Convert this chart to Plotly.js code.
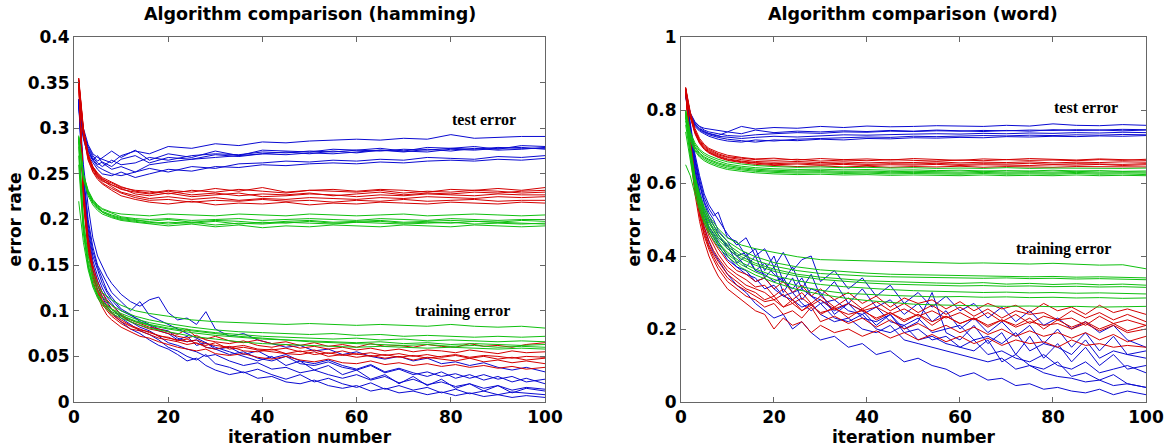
<!DOCTYPE html>
<html>
<head>
<meta charset="utf-8">
<script src="https://cdn.plot.ly/plotly-3.0.1.min.js"></script>
<style>html,body{margin:0;padding:0;background:#fff;}#chart{width:1168px;height:448px;}</style>
</head>
<body>
<div id="chart"></div>
<script>
// iteration grids (sparse for smooth curves, denser for noisy training curves)
const XS = [1,2,3,4,5,6,8,10,13,16,20,25,30,35,40,45,50,55,60,65,70,75,80,85,90,95,100];
const XD = [1,2,3,4,5,6,7,8,10,12,14,16,18,20,22,24,26,28,30,33,36,39,42,45,48,51,54,57,60,63,66,69,72,75,78,81,84,87,90,93,96,100];

const panelTitles = ["Algorithm comparison (hamming)", "Algorithm comparison (word)"];
const xTicks = [0,20,40,60,80,100];
const labels = ["test error", "training error"];

// ---------- Hamming: test error ----------
const hamTestBlue = [
 [0.332,0.300,0.282,0.272,0.268,0.266,0.262,0.270,0.275,0.272,0.280,0.278,0.283,0.281,0.285,0.284,0.286,0.287,0.288,0.287,0.289,0.288,0.293,0.289,0.290,0.291,0.291],
 [0.328,0.295,0.278,0.268,0.262,0.258,0.265,0.260,0.262,0.268,0.265,0.270,0.272,0.271,0.274,0.273,0.275,0.274,0.276,0.275,0.277,0.276,0.278,0.277,0.279,0.278,0.278],
 [0.330,0.292,0.275,0.265,0.270,0.262,0.255,0.258,0.252,0.260,0.263,0.266,0.268,0.270,0.272,0.271,0.273,0.272,0.274,0.276,0.275,0.274,0.277,0.276,0.278,0.279,0.277],
 [0.325,0.288,0.270,0.262,0.255,0.250,0.248,0.252,0.246,0.250,0.255,0.253,0.258,0.257,0.260,0.259,0.261,0.262,0.261,0.263,0.262,0.264,0.265,0.264,0.266,0.265,0.267],
 [0.327,0.290,0.272,0.265,0.258,0.255,0.250,0.248,0.252,0.256,0.252,0.258,0.256,0.261,0.262,0.264,0.263,0.265,0.264,0.266,0.265,0.268,0.267,0.266,0.269,0.268,0.270],
 [0.331,0.296,0.280,0.270,0.264,0.268,0.275,0.268,0.276,0.265,0.272,0.268,0.275,0.270,0.276,0.275,0.274,0.277,0.276,0.278,0.275,0.279,0.278,0.280,0.277,0.281,0.280],
 [0.329,0.293,0.276,0.266,0.260,0.263,0.258,0.266,0.270,0.262,0.268,0.266,0.271,0.269,0.272,0.274,0.272,0.275,0.273,0.276,0.274,0.277,0.275,0.278,0.276,0.277,0.279]
];
const hamTestRed = [
 [0.355,0.300,0.272,0.258,0.250,0.245,0.238,0.233,0.230,0.228,0.231,0.227,0.229,0.226,0.228,0.227,0.229,0.226,0.228,0.230,0.227,0.229,0.228,0.230,0.229,0.231,0.232],
 [0.350,0.295,0.268,0.255,0.247,0.243,0.236,0.230,0.226,0.223,0.225,0.222,0.224,0.221,0.223,0.222,0.224,0.223,0.222,0.224,0.223,0.225,0.224,0.223,0.225,0.224,0.225],
 [0.352,0.298,0.270,0.257,0.249,0.244,0.240,0.235,0.232,0.231,0.228,0.232,0.230,0.233,0.231,0.229,0.232,0.231,0.230,0.232,0.229,0.231,0.230,0.232,0.231,0.229,0.230],
 [0.348,0.292,0.265,0.252,0.244,0.239,0.232,0.226,0.222,0.219,0.217,0.220,0.216,0.218,0.217,0.219,0.216,0.218,0.217,0.219,0.218,0.217,0.219,0.218,0.217,0.219,0.218],
 [0.353,0.297,0.269,0.256,0.248,0.242,0.238,0.234,0.228,0.226,0.229,0.225,0.227,0.229,0.225,0.226,0.228,0.227,0.225,0.227,0.226,0.228,0.227,0.226,0.228,0.227,0.227],
 [0.351,0.299,0.271,0.258,0.251,0.246,0.241,0.236,0.231,0.229,0.232,0.230,0.234,0.231,0.235,0.230,0.232,0.233,0.231,0.233,0.232,0.230,0.233,0.232,0.234,0.232,0.235],
 [0.349,0.294,0.266,0.253,0.246,0.240,0.234,0.229,0.224,0.221,0.222,0.219,0.221,0.220,0.222,0.220,0.221,0.219,0.221,0.220,0.222,0.220,0.221,0.222,0.220,0.221,0.221]
];
const hamTestGreen = [
 [0.292,0.250,0.232,0.222,0.216,0.212,0.208,0.206,0.205,0.204,0.206,0.205,0.204,0.206,0.205,0.204,0.206,0.205,0.204,0.205,0.206,0.204,0.205,0.206,0.205,0.204,0.205],
 [0.288,0.246,0.228,0.218,0.212,0.208,0.204,0.201,0.199,0.198,0.200,0.197,0.199,0.198,0.196,0.198,0.199,0.197,0.198,0.199,0.197,0.198,0.199,0.198,0.197,0.199,0.198],
 [0.290,0.248,0.230,0.220,0.214,0.209,0.205,0.202,0.200,0.197,0.195,0.197,0.194,0.196,0.195,0.197,0.196,0.195,0.197,0.196,0.195,0.196,0.197,0.195,0.196,0.195,0.196],
 [0.286,0.244,0.226,0.216,0.210,0.206,0.202,0.199,0.197,0.195,0.193,0.195,0.192,0.194,0.191,0.193,0.192,0.194,0.193,0.192,0.194,0.193,0.192,0.194,0.193,0.192,0.193],
 [0.291,0.249,0.231,0.221,0.215,0.211,0.207,0.203,0.201,0.200,0.201,0.199,0.200,0.201,0.199,0.200,0.201,0.200,0.199,0.201,0.200,0.199,0.201,0.200,0.199,0.200,0.200],
 [0.289,0.247,0.229,0.219,0.213,0.208,0.203,0.200,0.198,0.196,0.197,0.196,0.198,0.195,0.197,0.196,0.198,0.196,0.197,0.198,0.196,0.197,0.196,0.198,0.197,0.196,0.195]
];

// ---------- Hamming: training error ----------
const hamTrainBlue = [
 [0.330,0.240,0.190,0.160,0.145,0.130,0.120,0.112,0.100,0.095,0.090,0.085,0.080,0.078,0.070,0.066,0.068,0.060,0.058,0.052,0.055,0.048,0.045,0.050,0.042,0.040,0.044,0.038,0.035,0.040,0.032,0.036,0.030,0.033,0.028,0.031,0.026,0.030,0.025,0.028,0.022,0.025],
 [0.332,0.260,0.215,0.180,0.160,0.148,0.138,0.130,0.118,0.110,0.105,0.112,0.115,0.098,0.090,0.092,0.085,0.099,0.080,0.072,0.075,0.068,0.064,0.060,0.062,0.056,0.058,0.052,0.055,0.050,0.047,0.050,0.045,0.048,0.042,0.044,0.040,0.043,0.038,0.035,0.038,0.033],
 [0.328,0.225,0.175,0.145,0.128,0.115,0.105,0.098,0.088,0.080,0.075,0.068,0.062,0.058,0.052,0.045,0.048,0.040,0.035,0.030,0.033,0.026,0.028,0.022,0.020,0.024,0.018,0.015,0.018,0.012,0.015,0.010,0.012,0.008,0.011,0.007,0.010,0.006,0.008,0.005,0.007,0.005],
 [0.330,0.235,0.185,0.155,0.138,0.125,0.115,0.108,0.095,0.088,0.082,0.078,0.072,0.065,0.062,0.058,0.055,0.050,0.052,0.045,0.040,0.043,0.036,0.038,0.032,0.035,0.030,0.026,0.030,0.024,0.028,0.021,0.025,0.019,0.022,0.017,0.020,0.015,0.018,0.013,0.016,0.014],
 [0.331,0.245,0.195,0.165,0.148,0.135,0.122,0.115,0.102,0.096,0.088,0.084,0.078,0.075,0.068,0.072,0.062,0.065,0.058,0.060,0.052,0.056,0.048,0.052,0.045,0.042,0.046,0.040,0.036,0.041,0.033,0.037,0.032,0.028,0.033,0.026,0.030,0.024,0.028,0.022,0.026,0.020],
 [0.329,0.230,0.180,0.150,0.133,0.120,0.110,0.102,0.092,0.085,0.078,0.074,0.068,0.060,0.056,0.050,0.046,0.052,0.042,0.038,0.032,0.036,0.030,0.025,0.030,0.022,0.026,0.020,0.016,0.021,0.014,0.018,0.013,0.016,0.010,0.014,0.009,0.012,0.008,0.011,0.010,0.008],
 [0.330,0.250,0.200,0.170,0.150,0.140,0.130,0.120,0.110,0.100,0.110,0.095,0.090,0.085,0.080,0.075,0.070,0.065,0.060,0.055,0.050,0.045,0.050,0.040,0.045,0.035,0.040,0.030,0.035,0.025,0.030,0.020,0.028,0.018,0.025,0.015,0.020,0.012,0.018,0.010,0.015,0.012]
];
const hamTrainRed = [
 [0.355,0.230,0.175,0.145,0.128,0.116,0.108,0.102,0.094,0.088,0.084,0.080,0.078,0.075,0.072,0.070,0.073,0.068,0.066,0.064,0.067,0.062,0.060,0.063,0.059,0.061,0.058,0.060,0.057,0.059,0.056,0.058,0.055,0.057,0.056,0.054,0.057,0.055,0.053,0.056,0.054,0.055],
 [0.352,0.222,0.168,0.138,0.120,0.108,0.100,0.094,0.086,0.080,0.078,0.074,0.070,0.068,0.066,0.063,0.065,0.060,0.058,0.061,0.056,0.055,0.058,0.053,0.052,0.055,0.050,0.052,0.049,0.051,0.048,0.050,0.046,0.049,0.047,0.045,0.048,0.044,0.046,0.043,0.045,0.042],
 [0.354,0.235,0.180,0.150,0.132,0.120,0.112,0.106,0.096,0.090,0.086,0.082,0.080,0.077,0.074,0.080,0.071,0.069,0.072,0.067,0.065,0.068,0.064,0.066,0.062,0.065,0.061,0.063,0.060,0.064,0.061,0.062,0.060,0.063,0.061,0.060,0.064,0.061,0.062,0.060,0.063,0.065],
 [0.350,0.218,0.164,0.134,0.116,0.104,0.095,0.090,0.082,0.077,0.072,0.070,0.066,0.063,0.060,0.058,0.056,0.058,0.053,0.051,0.053,0.049,0.047,0.050,0.046,0.044,0.047,0.043,0.042,0.045,0.041,0.043,0.040,0.042,0.039,0.041,0.038,0.040,0.037,0.039,0.036,0.038],
 [0.353,0.228,0.172,0.142,0.124,0.112,0.104,0.098,0.090,0.084,0.080,0.076,0.073,0.070,0.068,0.066,0.068,0.064,0.062,0.060,0.062,0.058,0.057,0.059,0.055,0.057,0.053,0.056,0.052,0.054,0.051,0.053,0.050,0.052,0.049,0.051,0.048,0.050,0.047,0.049,0.046,0.048],
 [0.351,0.225,0.170,0.140,0.122,0.110,0.102,0.096,0.088,0.083,0.079,0.077,0.072,0.071,0.067,0.069,0.064,0.062,0.065,0.058,0.060,0.057,0.055,0.053,0.056,0.052,0.054,0.051,0.053,0.050,0.052,0.049,0.051,0.048,0.050,0.052,0.049,0.051,0.050,0.048,0.050,0.049]
];
const hamTrainGreen = [
 [0.290,0.200,0.160,0.140,0.128,0.120,0.112,0.106,0.100,0.097,0.094,0.090,0.088,0.087,0.086,0.085,0.086,0.085,0.084,0.085,0.084,0.083,0.085,0.083,0.082,0.083,0.081],
 [0.285,0.195,0.155,0.135,0.123,0.115,0.106,0.100,0.094,0.090,0.086,0.082,0.079,0.077,0.076,0.075,0.074,0.075,0.073,0.074,0.072,0.073,0.072,0.071,0.072,0.071,0.072],
 [0.280,0.190,0.150,0.130,0.118,0.110,0.102,0.097,0.091,0.087,0.083,0.079,0.076,0.074,0.072,0.071,0.070,0.069,0.070,0.068,0.069,0.067,0.068,0.067,0.066,0.067,0.066],
 [0.260,0.185,0.148,0.128,0.116,0.108,0.099,0.094,0.088,0.084,0.080,0.076,0.073,0.071,0.069,0.068,0.067,0.066,0.065,0.066,0.064,0.065,0.063,0.064,0.063,0.062,0.063],
 [0.220,0.175,0.145,0.126,0.114,0.106,0.097,0.092,0.086,0.081,0.077,0.072,0.069,0.066,0.064,0.063,0.062,0.061,0.060,0.061,0.060,0.059,0.060,0.059,0.058,0.059,0.058],
 [0.270,0.188,0.150,0.130,0.118,0.110,0.101,0.095,0.089,0.085,0.081,0.078,0.075,0.072,0.070,0.068,0.066,0.065,0.064,0.063,0.062,0.063,0.061,0.062,0.060,0.061,0.060]
];

// ---------- Word: test error ----------
const wordTestBlue = [
 [0.850,0.790,0.765,0.755,0.750,0.748,0.745,0.740,0.755,0.748,0.752,0.750,0.755,0.752,0.756,0.754,0.755,0.757,0.756,0.755,0.758,0.756,0.762,0.758,0.757,0.760,0.758],
 [0.848,0.785,0.760,0.748,0.740,0.735,0.728,0.725,0.722,0.725,0.728,0.726,0.730,0.732,0.731,0.733,0.734,0.735,0.734,0.736,0.735,0.737,0.736,0.738,0.737,0.739,0.738],
 [0.845,0.780,0.755,0.742,0.735,0.728,0.720,0.715,0.712,0.718,0.715,0.720,0.722,0.724,0.726,0.725,0.728,0.727,0.729,0.730,0.729,0.731,0.730,0.732,0.731,0.733,0.732],
 [0.852,0.792,0.768,0.755,0.745,0.740,0.735,0.730,0.728,0.732,0.735,0.738,0.736,0.740,0.739,0.742,0.741,0.743,0.742,0.744,0.743,0.745,0.744,0.746,0.745,0.747,0.746],
 [0.846,0.782,0.758,0.745,0.738,0.732,0.725,0.720,0.716,0.712,0.718,0.716,0.720,0.718,0.722,0.721,0.724,0.723,0.725,0.724,0.727,0.726,0.728,0.727,0.729,0.728,0.730],
 [0.849,0.787,0.762,0.750,0.742,0.736,0.730,0.740,0.735,0.745,0.738,0.742,0.740,0.743,0.741,0.744,0.742,0.745,0.743,0.741,0.744,0.742,0.746,0.744,0.745,0.743,0.745]
];
const wordTestRed = [
 [0.860,0.790,0.745,0.718,0.702,0.692,0.680,0.672,0.668,0.664,0.662,0.665,0.660,0.663,0.661,0.664,0.662,0.660,0.663,0.661,0.664,0.662,0.663,0.661,0.664,0.662,0.665],
 [0.858,0.785,0.740,0.712,0.696,0.686,0.674,0.666,0.660,0.656,0.653,0.655,0.652,0.654,0.651,0.653,0.652,0.654,0.651,0.653,0.652,0.654,0.651,0.653,0.652,0.651,0.653],
 [0.855,0.780,0.735,0.708,0.692,0.682,0.670,0.662,0.656,0.651,0.648,0.645,0.647,0.644,0.646,0.643,0.645,0.644,0.646,0.643,0.645,0.644,0.643,0.645,0.644,0.643,0.644],
 [0.862,0.795,0.750,0.722,0.706,0.695,0.684,0.676,0.670,0.666,0.668,0.663,0.667,0.664,0.666,0.663,0.667,0.665,0.662,0.666,0.664,0.667,0.665,0.663,0.666,0.664,0.662],
 [0.857,0.783,0.738,0.710,0.694,0.684,0.672,0.664,0.658,0.654,0.650,0.652,0.649,0.651,0.648,0.650,0.649,0.651,0.648,0.650,0.649,0.648,0.650,0.649,0.651,0.648,0.650],
 [0.859,0.788,0.742,0.715,0.699,0.689,0.677,0.670,0.664,0.659,0.657,0.659,0.656,0.658,0.655,0.657,0.656,0.658,0.655,0.657,0.656,0.658,0.655,0.657,0.656,0.658,0.657]
];
const wordTestGreen = [
 [0.800,0.740,0.710,0.692,0.682,0.675,0.665,0.658,0.652,0.648,0.645,0.643,0.644,0.642,0.643,0.641,0.642,0.640,0.641,0.640,0.642,0.640,0.641,0.640,0.641,0.640,0.641],
 [0.790,0.730,0.700,0.682,0.672,0.665,0.655,0.648,0.642,0.638,0.635,0.633,0.634,0.632,0.633,0.631,0.632,0.631,0.630,0.632,0.630,0.631,0.630,0.632,0.630,0.631,0.630],
 [0.780,0.722,0.692,0.675,0.665,0.658,0.648,0.641,0.636,0.632,0.629,0.627,0.628,0.626,0.627,0.625,0.626,0.625,0.624,0.626,0.624,0.625,0.624,0.626,0.624,0.625,0.623],
 [0.795,0.735,0.705,0.688,0.677,0.670,0.660,0.652,0.646,0.642,0.639,0.637,0.638,0.636,0.637,0.635,0.636,0.634,0.635,0.633,0.634,0.633,0.635,0.633,0.634,0.632,0.633],
 [0.770,0.715,0.688,0.671,0.661,0.654,0.644,0.637,0.632,0.628,0.625,0.623,0.624,0.622,0.623,0.621,0.622,0.621,0.620,0.622,0.620,0.621,0.620,0.622,0.620,0.621,0.620],
 [0.785,0.727,0.697,0.679,0.669,0.662,0.652,0.645,0.639,0.635,0.632,0.630,0.631,0.629,0.630,0.628,0.629,0.628,0.627,0.629,0.627,0.628,0.627,0.629,0.627,0.628,0.627]
];

// ---------- Word: training error ----------
const wordTrainBlue = [
 [0.850,0.760,0.680,0.620,0.570,0.540,0.520,0.500,0.460,0.430,0.450,0.400,0.420,0.370,0.410,0.360,0.390,0.400,0.330,0.360,0.310,0.340,0.290,0.320,0.270,0.300,0.260,0.290,0.250,0.270,0.230,0.260,0.220,0.250,0.210,0.230,0.200,0.220,0.190,0.210,0.170,0.150],
 [0.848,0.740,0.650,0.580,0.530,0.500,0.470,0.450,0.430,0.380,0.400,0.360,0.350,0.330,0.340,0.300,0.310,0.290,0.270,0.280,0.250,0.240,0.260,0.220,0.210,0.230,0.190,0.200,0.210,0.170,0.180,0.160,0.190,0.140,0.160,0.150,0.130,0.170,0.120,0.140,0.130,0.120],
 [0.845,0.720,0.620,0.540,0.480,0.440,0.410,0.390,0.350,0.320,0.300,0.270,0.250,0.230,0.240,0.200,0.220,0.190,0.170,0.180,0.150,0.160,0.130,0.140,0.110,0.120,0.100,0.090,0.070,0.080,0.060,0.065,0.045,0.050,0.035,0.040,0.030,0.025,0.035,0.020,0.030,0.020],
 [0.850,0.750,0.665,0.600,0.550,0.520,0.500,0.470,0.440,0.400,0.410,0.360,0.380,0.350,0.330,0.310,0.340,0.290,0.280,0.250,0.270,0.230,0.220,0.240,0.190,0.200,0.170,0.180,0.150,0.140,0.170,0.110,0.130,0.100,0.090,0.110,0.070,0.080,0.060,0.075,0.050,0.040],
 [0.847,0.730,0.635,0.565,0.510,0.475,0.450,0.430,0.390,0.370,0.360,0.330,0.340,0.310,0.290,0.300,0.270,0.250,0.270,0.230,0.220,0.240,0.200,0.190,0.210,0.170,0.180,0.160,0.150,0.170,0.130,0.140,0.120,0.110,0.130,0.100,0.090,0.110,0.080,0.090,0.100,0.080],
 [0.849,0.745,0.660,0.595,0.545,0.510,0.485,0.460,0.420,0.400,0.370,0.400,0.340,0.370,0.300,0.340,0.280,0.310,0.300,0.240,0.270,0.250,0.210,0.240,0.200,0.220,0.300,0.190,0.170,0.210,0.160,0.190,0.130,0.180,0.120,0.160,0.110,0.150,0.100,0.130,0.090,0.100],
 [0.850,0.750,0.670,0.610,0.560,0.530,0.510,0.520,0.450,0.440,0.400,0.420,0.360,0.400,0.330,0.370,0.310,0.350,0.290,0.330,0.270,0.310,0.260,0.280,0.240,0.270,0.220,0.250,0.200,0.230,0.190,0.220,0.180,0.210,0.160,0.200,0.150,0.190,0.140,0.180,0.130,0.140],
 [0.846,0.735,0.640,0.570,0.520,0.480,0.460,0.440,0.400,0.370,0.350,0.340,0.310,0.320,0.290,0.280,0.260,0.270,0.240,0.220,0.230,0.200,0.190,0.210,0.170,0.160,0.150,0.140,0.130,0.120,0.110,0.120,0.090,0.100,0.080,0.070,0.065,0.055,0.060,0.045,0.050,0.040]
];
const wordTrainRed = [
 [0.860,0.720,0.620,0.550,0.500,0.465,0.440,0.420,0.385,0.360,0.350,0.330,0.340,0.310,0.330,0.300,0.320,0.290,0.310,0.280,0.300,0.270,0.290,0.260,0.285,0.270,0.280,0.255,0.275,0.250,0.270,0.255,0.265,0.245,0.270,0.250,0.260,0.240,0.265,0.245,0.255,0.240],
 [0.858,0.700,0.595,0.520,0.470,0.430,0.405,0.385,0.350,0.330,0.310,0.300,0.280,0.290,0.260,0.280,0.250,0.270,0.240,0.260,0.230,0.255,0.225,0.245,0.220,0.240,0.210,0.235,0.215,0.230,0.205,0.225,0.210,0.230,0.200,0.225,0.205,0.220,0.200,0.215,0.195,0.210],
 [0.855,0.680,0.570,0.495,0.440,0.400,0.370,0.345,0.310,0.290,0.270,0.250,0.240,0.200,0.230,0.210,0.220,0.190,0.210,0.190,0.200,0.180,0.195,0.175,0.190,0.170,0.185,0.165,0.180,0.160,0.175,0.155,0.170,0.160,0.165,0.150,0.170,0.155,0.160,0.150,0.155,0.150],
 [0.862,0.710,0.610,0.540,0.490,0.455,0.430,0.405,0.370,0.350,0.335,0.315,0.320,0.290,0.310,0.280,0.300,0.270,0.290,0.260,0.285,0.255,0.275,0.250,0.270,0.245,0.265,0.240,0.260,0.235,0.255,0.230,0.250,0.240,0.245,0.225,0.250,0.230,0.245,0.225,0.240,0.220],
 [0.857,0.690,0.585,0.510,0.455,0.418,0.390,0.365,0.330,0.310,0.290,0.280,0.260,0.270,0.240,0.250,0.230,0.260,0.220,0.235,0.215,0.230,0.205,0.225,0.200,0.215,0.195,0.210,0.190,0.205,0.185,0.200,0.180,0.195,0.180,0.190,0.175,0.190,0.170,0.185,0.165,0.180],
 [0.859,0.705,0.600,0.528,0.478,0.442,0.415,0.395,0.360,0.340,0.320,0.310,0.300,0.280,0.295,0.270,0.285,0.265,0.280,0.255,0.270,0.250,0.260,0.240,0.255,0.235,0.250,0.230,0.245,0.225,0.245,0.220,0.240,0.215,0.235,0.225,0.230,0.210,0.235,0.215,0.225,0.210],
 [0.856,0.695,0.590,0.515,0.462,0.425,0.398,0.375,0.340,0.320,0.305,0.290,0.275,0.280,0.260,0.270,0.250,0.265,0.245,0.255,0.240,0.250,0.230,0.245,0.225,0.240,0.220,0.235,0.215,0.230,0.210,0.225,0.205,0.220,0.210,0.215,0.200,0.215,0.195,0.210,0.190,0.200]
];
const wordTrainGreen = [
 [0.800,0.700,0.620,0.570,0.535,0.510,0.475,0.450,0.430,0.420,0.410,0.398,0.390,0.388,0.386,0.384,0.383,0.382,0.380,0.381,0.379,0.378,0.380,0.377,0.375,0.376,0.365],
 [0.790,0.690,0.610,0.560,0.522,0.495,0.458,0.432,0.405,0.388,0.372,0.360,0.352,0.348,0.345,0.343,0.342,0.340,0.341,0.339,0.340,0.338,0.339,0.337,0.338,0.336,0.335],
 [0.780,0.680,0.600,0.548,0.510,0.482,0.445,0.420,0.392,0.375,0.358,0.345,0.336,0.330,0.326,0.323,0.321,0.320,0.318,0.319,0.317,0.318,0.316,0.317,0.315,0.316,0.314],
 [0.760,0.670,0.592,0.540,0.502,0.474,0.437,0.410,0.382,0.364,0.346,0.332,0.322,0.316,0.311,0.308,0.305,0.303,0.302,0.300,0.301,0.299,0.300,0.298,0.299,0.297,0.296],
 [0.650,0.620,0.570,0.525,0.490,0.462,0.425,0.398,0.368,0.348,0.328,0.308,0.295,0.285,0.278,0.272,0.268,0.266,0.264,0.263,0.262,0.263,0.261,0.262,0.260,0.261,0.262],
 [0.795,0.695,0.615,0.565,0.528,0.502,0.466,0.440,0.415,0.398,0.382,0.370,0.362,0.357,0.353,0.350,0.349,0.347,0.346,0.345,0.344,0.343,0.344,0.342,0.343,0.341,0.340],
 [0.785,0.688,0.608,0.555,0.518,0.490,0.452,0.426,0.398,0.380,0.364,0.350,0.342,0.336,0.332,0.330,0.327,0.326,0.325,0.327,0.323,0.325,0.322,0.324,0.321,0.323,0.320],
 [0.740,0.660,0.585,0.535,0.498,0.470,0.433,0.405,0.376,0.356,0.336,0.318,0.306,0.298,0.294,0.292,0.290,0.288,0.289,0.287,0.288,0.286,0.287,0.285,0.286,0.284,0.285]
];

const BLUE = '#0a0ad2', RED = '#d40000', GREEN = '#10c010';
const traces = [];
function addGroup(xs, group, color, xa, ya) {
  group.forEach(ys => traces.push({
    type: 'scatter', mode: 'lines', x: xs, y: ys, xaxis: xa, yaxis: ya,
    line: {color: color, width: 1}, hoverinfo: 'skip', showlegend: false
  }));
}
// hamming panel
addGroup(XS, hamTestBlue, BLUE, 'x', 'y');
addGroup(XD, hamTrainBlue, BLUE, 'x', 'y');
addGroup(XS, hamTestRed, RED, 'x', 'y');
addGroup(XD, hamTrainRed, RED, 'x', 'y');
addGroup(XS, hamTestGreen, GREEN, 'x', 'y');
addGroup(XS, hamTrainGreen, GREEN, 'x', 'y');
// word panel
addGroup(XS, wordTestBlue, BLUE, 'x2', 'y2');
addGroup(XD, wordTrainBlue, BLUE, 'x2', 'y2');
addGroup(XS, wordTestRed, RED, 'x2', 'y2');
addGroup(XD, wordTrainRed, RED, 'x2', 'y2');
addGroup(XS, wordTestGreen, GREEN, 'x2', 'y2');
addGroup(XS, wordTrainGreen, GREEN, 'x2', 'y2');

const FONT = 'DejaVu Sans, Liberation Sans, Arial, sans-serif';
const tickFont = {family: FONT, size: 17, color: '#000', weight: 'bold'};
const titleFont = {family: FONT, size: 17.5, color: '#000', weight: 'bold'};
const axTitleFont = {family: FONT, size: 17, color: '#000', weight: 'bold'};
const serif = {family: 'Liberation Serif, Times New Roman, serif', size: 16, color: '#000', weight: 'bold'};

function xax(domain, anchor) {
  return {domain: domain, anchor: anchor, range: [0, 100], tickvals: xTicks,
    ticks: 'inside', ticklen: 5, tickcolor: '#666', mirror: 'ticks', showline: true,
    linecolor: '#666', linewidth: 1, showgrid: false, zeroline: false, ticklabelstandoff: 0,
    tickfont: tickFont, title: {text: 'iteration number', font: axTitleFont, standoff: 4}};
}
function yax(range, dtick, anchor) {
  return {domain: [0, 1], anchor: anchor, range: range, dtick: dtick, tick0: 0,
    ticks: 'inside', ticklen: 5, tickcolor: '#666', mirror: 'ticks', showline: true,
    linecolor: '#666', linewidth: 1, showgrid: false, zeroline: false,
    tickfont: tickFont, title: {text: 'error rate', font: axTitleFont, standoff: 1}};
}

const layout = {
  width: 1168, height: 448,
  margin: {l: 74, r: 22, t: 37, b: 46},
  paper_bgcolor: '#fff', plot_bgcolor: '#fff',
  showlegend: false,
  xaxis: xax([0, 0.4394], 'y'),
  yaxis: yax([0, 0.4], 0.05, 'x'),
  xaxis2: xax([0.5662, 1], 'y2'),
  yaxis2: yax([0, 1], 0.2, 'x2'),
  annotations: [
    {text: panelTitles[0], xref: 'x domain', yref: 'paper', x: 0.5, y: 1.063, xanchor: 'center', yanchor: 'middle', showarrow: false, font: titleFont},
    {text: panelTitles[1], xref: 'x2 domain', yref: 'paper', x: 0.5, y: 1.063, xanchor: 'center', yanchor: 'middle', showarrow: false, font: titleFont},
    {text: labels[0], xref: 'x', yref: 'y', x: 87, y: 0.310, showarrow: false, font: serif},
    {text: labels[1], xref: 'x', yref: 'y', x: 82.4, y: 0.0997, showarrow: false, font: serif},
    {text: labels[0], xref: 'x2', yref: 'y2', x: 87.1, y: 0.808, showarrow: false, font: serif},
    {text: labels[1], xref: 'x2', yref: 'y2', x: 82.2, y: 0.419, showarrow: false, font: serif}
  ]
};

Plotly.newPlot('chart', traces, layout, {displayModeBar: false, staticPlot: true});
</script>
</body>
</html>
